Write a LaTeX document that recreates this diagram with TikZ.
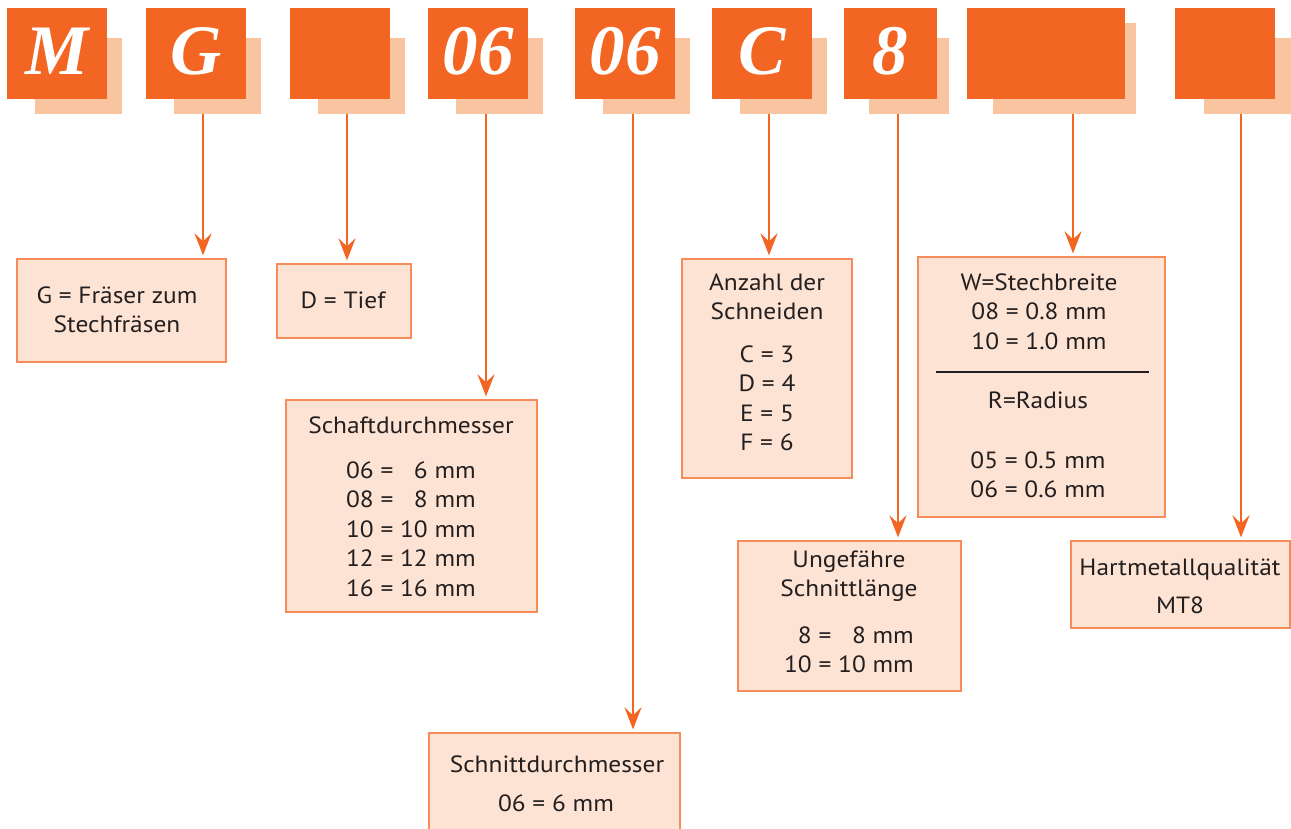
\documentclass[tikz,border=0pt]{standalone}
\usepackage{fontspec}
\setmainfont{PT Sans}[FakeStretch=1.08]
\newfontfamily\codefont{Liberation Serif}
\usetikzlibrary{arrows.meta}
\definecolor{orM}{RGB}{242,101,34}
\definecolor{peach}{RGB}{249,197,160}
\definecolor{boxfill}{RGB}{253,227,211}
\definecolor{boxline}{RGB}{245,140,90}
\definecolor{txtc}{RGB}{35,31,32}
\newcommand{\blocktext}[1]{\begin{tabular}[t]{@{}c@{}}#1\end{tabular}}
\newcommand{\numtab}[1]{\begin{tabular}[t]{@{}r@{ = }r@{}}#1\end{tabular}}
\begin{document}
\begin{tikzpicture}[x=1pt,y=-1pt,
  sq/.style={fill=orM, inner sep=0pt, minimum height=91pt, text=white,
    font=\codefont\bfseries\itshape\fontsize{71}{71}\selectfont, text height=41pt, text depth=0pt},
  shad/.style={fill=peach, inner sep=0pt, minimum height=76pt},
  infobox/.style={fill=boxfill, draw=boxline, line width=1.3pt, inner sep=0pt},
  txt/.style={anchor=base, inner sep=0pt, text=txtc, font=\fontsize{23.5}{29.5}\selectfont},
  arr/.style={draw=orM, line width=2.5pt, -{Stealth[length=22pt,width=17pt,inset=8pt]}, shorten >=3pt}
]
\useasboundingbox (0,0) rectangle (1291,828);
% shadows
\node[shad, minimum width=87pt] (shM) at (78.5,76) {};
\node[shad, minimum width=87pt] (shG) at (217.5,76) {};
\node[shad, minimum width=87pt] (shB) at (361.5,76) {};
\node[shad, minimum width=87pt] (shS) at (499.5,76) {};
\node[shad, minimum width=87pt] (shN) at (646.5,76) {};
\node[shad, minimum width=87pt] (shC) at (783.5,76) {};
\node[shad, minimum width=80pt] (shE) at (909,76) {};
\node[shad, minimum width=143pt, minimum height=91pt] (shW) at (1064.5,68.5) {};
\node[shad, minimum width=87pt] (shH) at (1247.5,76) {};
% squares
\node[sq, minimum width=100pt] (sqM) at (57,53.5) {M};
\node[sq, minimum width=100pt] (sqG) at (196,53.5) {G};
\node[sq, minimum width=100pt] (sqB) at (340,53.5) {};
\node[sq, minimum width=100pt] (sqS) at (478,53.5) {06};
\node[sq, minimum width=100pt] (sqN) at (625,53.5) {06};
\node[sq, minimum width=100pt] (sqC) at (762,53.5) {C};
\node[sq, minimum width=93pt] (sqE) at (890.5,53.5) {8};
\node[sq, minimum width=158pt] (sqW) at (1046,53.5) {};
\node[sq, minimum width=100pt] (sqH) at (1225,53.5) {};
% boxes
\node[infobox, minimum width=209pt, minimum height=103pt] (boxG) at (121.5,310.5) {};
\node[infobox, minimum width=134pt, minimum height=74pt] (boxD) at (344,301) {};
\node[infobox, minimum width=251pt, minimum height=212pt] (boxS) at (411.5,506) {};
\node[infobox, minimum width=251pt, minimum height=102pt] (boxN) at (554.5,784) {};
\node[infobox, minimum width=170pt, minimum height=219pt] (boxA) at (767,368.5) {};
\node[infobox, minimum width=247pt, minimum height=260pt] (boxW) at (1041.5,387) {};
\node[infobox, minimum width=223pt, minimum height=150pt] (boxU) at (849.5,616) {};
\node[infobox, minimum width=219pt, minimum height=87pt] (boxH) at (1180.5,584.5) {};
% texts
\node[txt] (tG) at (117,303) {\blocktext{G = Fräser zum\\Stechfräsen}};
\node[txt] (tD) at (343,308) {D = Tief};
\node[txt] (tS1) at (411,433) {Schaftdurchmesser};
\node[txt] (tS2) at (411,478) {\numtab{06 & 6 mm\\08 & 8 mm\\10 & 10 mm\\12 & 12 mm\\16 & 16 mm}};
\node[txt] (tN1) at (557,772) {Schnittdurchmesser};
\node[txt] (tN2) at (556,811) {06 = 6 mm};
\node[txt] (tA1) at (767,290) {\blocktext{Anzahl der\\Schneiden}};
\node[txt] (tA2) at (767,362) {\blocktext{C = 3\\D = 4\\E = 5\\F = 6}};
\node[txt] (tW1) at (1039,290) {\blocktext{W=Stechbreite\\08 = 0.8 mm\\10 = 1.0 mm}};
\node[txt] (tW2) at (1038,408) {R=Radius};
\node[txt] (tW3) at (1038,468) {\blocktext{05 = 0.5 mm\\06 = 0.6 mm}};
\coordinate (wl1) at (936,372);
\coordinate (wl2) at (1149,372);
\draw[line width=2pt, txtc] (wl1) -- (wl2);
\node[txt] (tU1) at (849,567) {\blocktext{Ungefähre\\Schnittlänge}};
\node[txt] (tU2) at (849,643) {\numtab{8 & 8 mm\\10 & 10 mm}};
\node[txt] (tH1) at (1180,575) {Hartmetallqualität};
\node[txt] (tH2) at (1180,613) {MT8};
% arrows
\coordinate (aG) at (203,0);
\coordinate (aB) at (347,0);
\coordinate (aS) at (486,0);
\coordinate (aN) at (633,0);
\coordinate (aC) at (769,0);
\coordinate (aE) at (898,0);
\coordinate (aW) at (1073,0);
\coordinate (aH) at (1241,0);
\draw[arr] (shG.south -| aG) -- (boxG.north -| aG);
\draw[arr] (shB.south -| aB) -- (boxD.north -| aB);
\draw[arr] (shS.south -| aS) -- (boxS.north -| aS);
\draw[arr] (shN.south -| aN) -- (boxN.north -| aN);
\draw[arr] (shC.south -| aC) -- (boxA.north -| aC);
\draw[arr] (shE.south -| aE) -- (boxU.north -| aE);
\draw[arr] (shW.south -| aW) -- (boxW.north -| aW);
\draw[arr] (shH.south -| aH) -- (boxH.north -| aH);
\end{tikzpicture}
\end{document}
